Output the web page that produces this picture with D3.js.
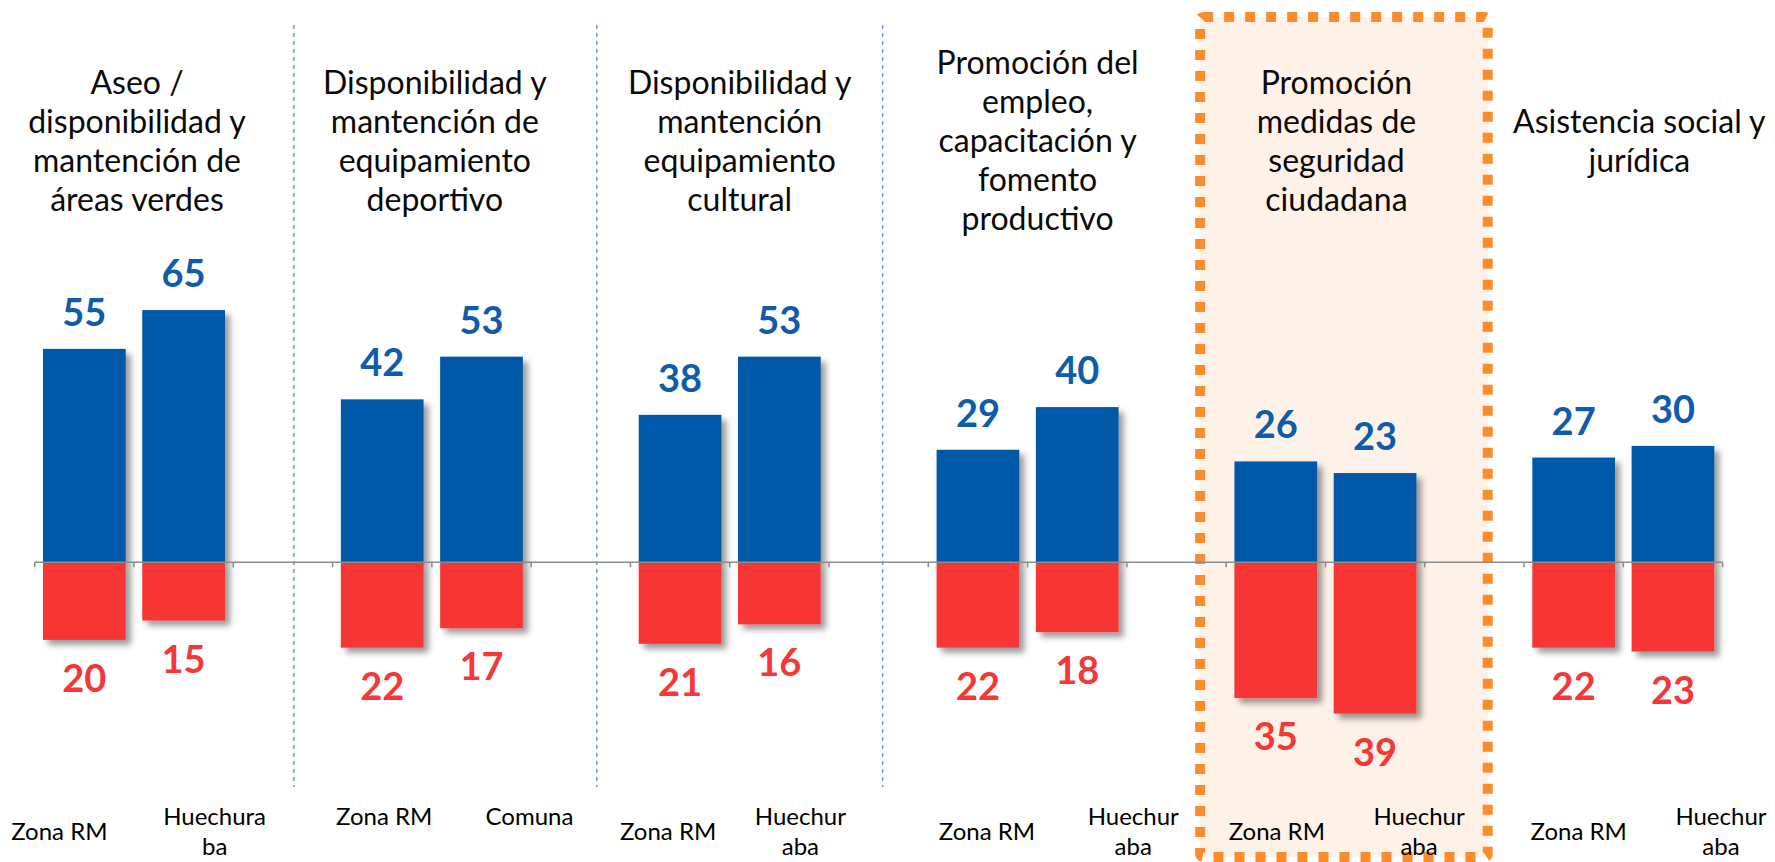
<!DOCTYPE html>
<html>
<head>
<meta charset="utf-8">
<script src="https://cdn.jsdelivr.net/npm/d3@7"></script>
<style>
  html, body { margin: 0; padding: 0; background: #fff; }
  svg { display: block; font-family: Lato, "Open Sans", sans-serif; }
</style>
</head>
<body>
<div class="chart"></div>
<script>
// group titles (one entry per group, lines already broken as in the source)
const titles = [
  ['Aseo /', 'disponibilidad y', 'mantención de', 'áreas verdes'],
  ['Disponibilidad y', 'mantención de', 'equipamiento', 'deportivo'],
  ['Disponibilidad y', 'mantención', 'equipamiento', 'cultural'],
  ['Promoción del', 'empleo,', 'capacitación y', 'fomento', 'productivo'],
  ['Promoción', 'medidas de', 'seguridad', 'ciudadana'],
  ['Asistencia social y', 'jurídica']
];

// x tick labels, first and second bar of each group
const labelsFirst = [['Zona RM'], ['Zona RM'], ['Zona RM'], ['Zona RM'], ['Zona RM'], ['Zona RM']];
const labelsSecond = [['Huechura', 'ba'], ['Comuna'], ['Huechur', 'aba'], ['Huechur', 'aba'], ['Huechur', 'aba'], ['Huechur', 'aba']];

// positive (blue) and negative (red) values
const posFirst = [55, 42, 38, 29, 26, 27];
const posSecond = [65, 53, 53, 40, 23, 30];
const negFirst = [20, 22, 21, 22, 35, 22];
const negSecond = [15, 17, 16, 18, 39, 23];

const highlightGroup = 4;

// layout tweaks (hand placed text boxes in the original)
const labelFirstDx = [-25, 2, -12, 9, 1, 5];
const labelSecondDx = [31, 48, 21, 56, 44, 48];
const titleDx = [3, 3, 10, 10, 11, 16];
const sepDx = [11, 16, 4];

const width = 1775;
const height = 862;
const blue = '#0458A8';
const red = '#F73535';

const svg = d3.select('.chart')
  .append('svg')
    .attr('width', width)
    .attr('height', height);

const defs = svg.append('defs');
defs.append('filter')
    .attr('id', 'shadow')
    .attr('x', '-20%').attr('y', '-20%')
    .attr('width', '150%').attr('height', '150%')
  .append('feDropShadow')
    .attr('dx', 5)
    .attr('dy', 5)
    .attr('stdDeviation', 3)
    .attr('flood-color', '#000')
    .attr('flood-opacity', 0.4);

const nSlots = titles.length * 3 - 1;
const x = d3.scaleBand()
  .domain(d3.range(nSlots))
  .range([34.7, 1722.6])
  .paddingInner(0.167)
  .paddingOuter(0.0835);

const y = d3.scaleLinear()
  .domain([-50, 80])
  .range([562.3 + 50 * 3.88, 562.3 - 80 * 3.88]);

const step = x.step();
const bw = x.bandwidth();
const slotLeft = i => x.range()[0] + i * step;

// rows: one per bar
const rows = [];
titles.forEach((t, g) => {
  rows.push({g, s: 0, slot: g * 3, pos: posFirst[g], neg: negFirst[g], label: labelsFirst[g], dx: labelFirstDx[g]});
  rows.push({g, s: 1, slot: g * 3 + 1, pos: posSecond[g], neg: negSecond[g], label: labelsSecond[g], dx: labelSecondDx[g]});
});

// highlight box behind the group
const hx0 = slotLeft(highlightGroup * 3) - 26;
const hx1 = slotLeft(highlightGroup * 3 + 2) + 63;
svg.append('rect')
    .attr('x', hx0)
    .attr('y', 17)
    .attr('width', hx1 - hx0)
    .attr('height', 840)
    .attr('rx', 3)
    .attr('fill', '#FEF1E8')
    .attr('stroke', '#FA8C2C')
    .attr('stroke-width', 10)
    .attr('stroke-dasharray', '10 11');

// dashed separators between first groups
svg.selectAll('line.sep')
  .data(sepDx)
  .enter()
  .append('line')
    .attr('class', 'sep')
    .attr('x1', (d, i) => slotLeft(i * 3 + 2) + step / 2 + d)
    .attr('x2', (d, i) => slotLeft(i * 3 + 2) + step / 2 + d)
    .attr('y1', 25)
    .attr('y2', 787)
    .attr('stroke', '#6F9BD3')
    .attr('stroke-width', 1.5)
    .attr('stroke-dasharray', '4 4');

// bars
svg.selectAll('rect.pos')
  .data(rows)
  .enter()
  .append('rect')
    .attr('class', 'pos')
    .attr('x', d => x(d.slot))
    .attr('y', d => y(d.pos))
    .attr('width', bw)
    .attr('height', d => y(0) - y(d.pos))
    .attr('fill', blue)
    .attr('filter', 'url(#shadow)');

svg.selectAll('rect.neg')
  .data(rows)
  .enter()
  .append('rect')
    .attr('class', 'neg')
    .attr('x', d => x(d.slot))
    .attr('y', y(0))
    .attr('width', bw)
    .attr('height', d => y(-d.neg) - y(0))
    .attr('fill', red)
    .attr('filter', 'url(#shadow)');

// zero axis with small ticks
svg.append('line')
    .attr('x1', x.range()[0])
    .attr('x2', x.range()[1])
    .attr('y1', y(0))
    .attr('y2', y(0))
    .attr('stroke', '#8C8C8C')
    .attr('stroke-width', 1.5);

svg.selectAll('line.tick')
  .data(d3.range(nSlots + 1))
  .enter()
  .append('line')
    .attr('class', 'tick')
    .attr('x1', d => slotLeft(d))
    .attr('x2', d => slotLeft(d))
    .attr('y1', y(0))
    .attr('y2', y(0) + 5)
    .attr('stroke', '#8C8C8C')
    .attr('stroke-width', 1.5);

// value labels
svg.selectAll('text.pos')
  .data(rows)
  .enter()
  .append('text')
    .attr('class', 'pos')
    .attr('x', d => x(d.slot) + bw / 2)
    .attr('y', d => y(d.pos) - 23)
    .attr('text-anchor', 'middle')
    .attr('font-size', '38px')
    .attr('font-weight', 'bold')
    .attr('fill', '#0E5CAB')
    .text(d => d.pos);

svg.selectAll('text.neg')
  .data(rows)
  .enter()
  .append('text')
    .attr('class', 'neg')
    .attr('x', d => x(d.slot) + bw / 2)
    .attr('y', d => y(-d.neg) + 52)
    .attr('text-anchor', 'middle')
    .attr('font-size', '38px')
    .attr('font-weight', 'bold')
    .attr('fill', '#F63737')
    .text(d => d.neg);

// group titles, centred vertically around the same middle line
const titleLine = 39;
const titleMid = 152;
titles.forEach((lines, g) => {
  const cx = x(g * 3) + (step + bw) / 2 + titleDx[g];
  const top = titleMid - (lines.length - 1) * titleLine / 2;
  svg.append('text')
      .attr('text-anchor', 'middle')
      .attr('font-size', '32px')
      .attr('fill', '#0a0a0a')
    .selectAll('tspan')
    .data(lines)
    .enter()
    .append('tspan')
      .attr('x', cx)
      .attr('y', (d, i) => top + i * titleLine)
      .text(d => d);
});

// x labels
titles.forEach((t, g) => {
  const pair = rows.filter(r => r.g === g);
  const twoLine = pair.some(r => r.label.length > 1);
  pair.forEach(r => {
    const first = twoLine ? 840 - (r.label.length - 1) * 15 : 825;
    svg.append('text')
        .attr('text-anchor', 'middle')
        .attr('font-size', '24px')
        .attr('fill', '#000')
      .selectAll('tspan')
      .data(r.label)
      .enter()
      .append('tspan')
        .attr('x', x(r.slot) + bw / 2 + r.dx)
        .attr('y', (d, i) => first + i * 30)
        .text(d => d);
  });
});
</script>
</body>
</html>
